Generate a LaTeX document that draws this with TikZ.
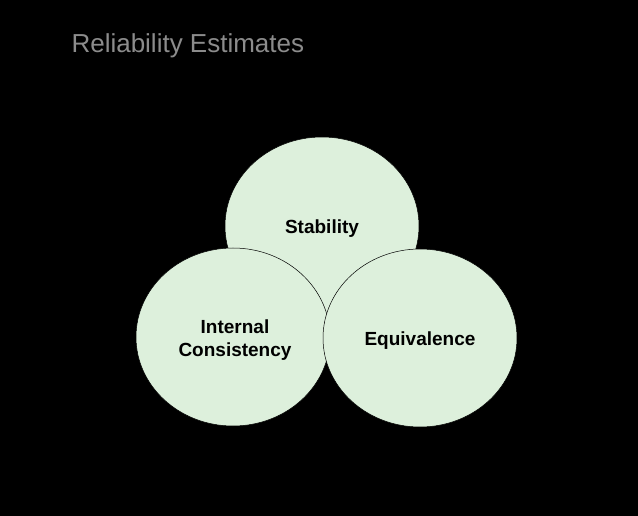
\documentclass[tikz,border=0pt]{standalone}
\usepackage{fontspec}
\setmainfont{Liberation Sans}
\begin{document}
\begin{tikzpicture}[x=1pt,y=-1pt,
  blob/.style={ellipse,draw=black,line width=0.5pt,fill=bubble,minimum width=194pt,minimum height=178pt,inner sep=0pt},
  lbl/.style={font=\bfseries\fontsize{19}{23}\selectfont,align=center}]
\definecolor{bubble}{HTML}{DDF0DC}
\usetikzlibrary{shapes.geometric}
\fill[black] (0,0) rectangle (638,516);
\useasboundingbox (0,0) rectangle (638,516);
\node[anchor=west,text=gray!90,font=\fontsize{26}{30}\selectfont] (title) at (68,46) {Reliability Estimates};
\node[blob] (s) at (322,226) {};
\node[blob] (i) at (233,337) {};
\node[blob] (e) at (420,338) {};
\node[lbl] (st) at (322,229) {Stability};
\node[lbl] (it) at (235,340) {Internal\\Consistency};
\node[lbl] (et) at (420,341) {Equivalence};
\end{tikzpicture}
\end{document}
